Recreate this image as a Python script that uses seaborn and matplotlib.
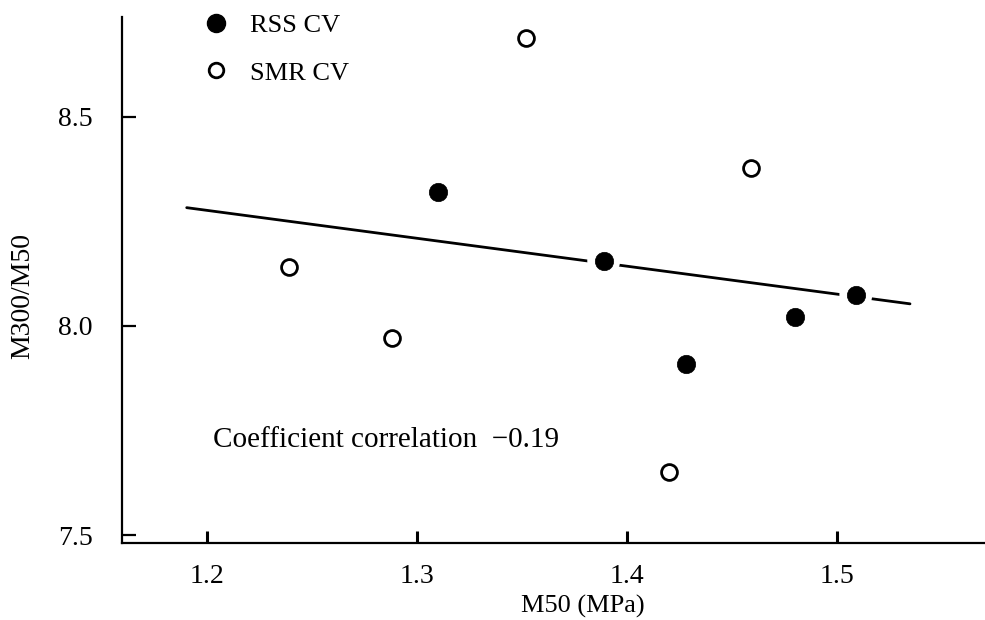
import matplotlib
matplotlib.use("Agg")
import matplotlib.pyplot as plt
import seaborn as sns
import pandas as pd
from matplotlib.lines import Line2D

sns.set_theme(style="ticks")
plt.rcParams['font.family'] = ['Liberation Serif', 'DejaVu Serif']
plt.rcParams['text.color'] = 'black'

# ---- data ----
rss_m50 = [1.310, 1.389, 1.428, 1.480, 1.509]
rss_ratio = [8.321, 8.156, 7.909, 8.022, 8.074]
smr_m50 = [1.239, 1.288, 1.352, 1.420, 1.459]
smr_ratio = [8.141, 7.971, 8.689, 7.651, 8.378]
fit_m50 = [1.1905, 1.5348]
fit_ratio = [8.283, 8.053]
x_ticks = [1.2, 1.3, 1.4, 1.5]
y_ticks = [7.5, 8.0, 8.5]
legend_labels = ["RSS CV", "SMR CV"]
annotation = "Coefficient correlation  \u22120.19"

rss = pd.DataFrame({"M50": rss_m50, "ratio": rss_ratio})
smr = pd.DataFrame({"M50": smr_m50, "ratio": smr_ratio})
fit = pd.DataFrame({"M50": fit_m50, "ratio": fit_ratio})

fig = plt.figure(figsize=(9.85, 6.2), dpi=100)
ax = fig.add_axes([122/985, 77/620, 1 - 122/985, (543-17)/620])

FS = 19

sns.lineplot(data=fit, x="M50", y="ratio", ax=ax, color="black", linewidth=2.0,
             zorder=2, legend=False)
# white halos that interrupt the line around filled points
sns.scatterplot(data=rss, x="M50", y="ratio", ax=ax, s=560, color="white",
                edgecolor="none", zorder=3, legend=False)
sns.scatterplot(data=rss, x="M50", y="ratio", ax=ax, s=175, color="black",
                edgecolor="black", linewidth=0.5, zorder=4, legend=False)
sns.scatterplot(data=smr, x="M50", y="ratio", ax=ax, s=130, facecolor="white",
                edgecolor="black", linewidth=2.0, zorder=4, legend=False)

ax.set_xlim(1.1597, 1.5705)
ax.set_ylim(7.481, 8.739)
ax.set_xticks(x_ticks)
ax.set_xticklabels([f"{v:.1f}" for v in x_ticks])
ax.set_yticks(y_ticks)
ax.set_yticklabels([f"{v:.1f}" for v in y_ticks])

for side in ["top", "right"]:
    ax.spines[side].set_visible(False)
for side in ["left", "bottom"]:
    ax.spines[side].set_linewidth(1.6)
    ax.spines[side].set_color("black")

ax.tick_params(axis="y", direction="in", length=10, width=1.6, pad=21,
               labelsize=20, colors="black")
ax.tick_params(axis="x", direction="in", length=9, width=2.2, pad=15,
               labelsize=20, colors="black")

ax.set_xlabel("M50 (MPa)", fontsize=FS, color="black")
ax.xaxis.set_label_coords(0.534, -0.099)
ax.set_ylabel("M300/M50", fontsize=20, color="black")
ax.yaxis.set_label_coords(-0.101, 0.47)

ax.text(1.203, 7.727, annotation, fontsize=21, va="center", ha="left",
        color="black")

handles = [
    Line2D([], [], linestyle="none", marker="o", markersize=13,
           markerfacecolor="black", markeredgecolor="black"),
    Line2D([], [], linestyle="none", marker="o", markersize=10.5,
           markerfacecolor="white", markeredgecolor="black",
           markeredgewidth=2.0),
]
leg = ax.legend(handles, legend_labels, loc="upper left",
                bbox_to_anchor=(208/985, 1 - 14/620), bbox_transform=fig.transFigure,
                frameon=False, fontsize=FS, handlelength=0.6, handletextpad=1.0,
                labelspacing=0.9, borderpad=0, borderaxespad=0,
                labelcolor="black")

fig.savefig("out.png", dpi=100, facecolor="white")
